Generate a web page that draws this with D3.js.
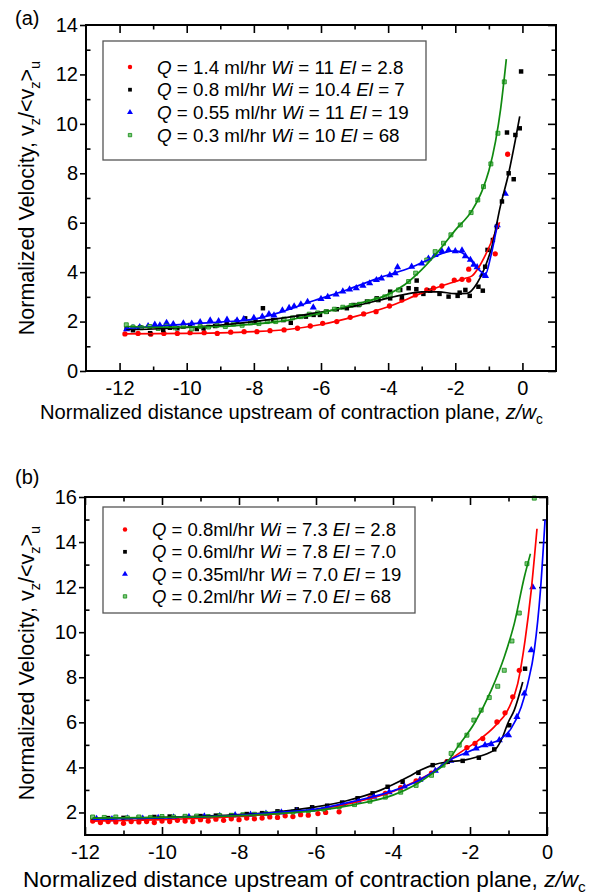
<!DOCTYPE html>
<html>
<head>
<meta charset="utf-8">
<script src="https://cdn.jsdelivr.net/npm/d3@7"></script>
<style>
  body { margin: 0; background: #fff; }
  text { font-family: "Liberation Sans", Arial, sans-serif; fill: #000; }
</style>
</head>
<body>
<svg id="fig" width="597" height="894"></svg>
<script>
// ---------- panel (a) data ----------
const aRedPts = [[-11.84,1.50],[-11.45,1.52],[-11.07,1.49],[-10.68,1.52],[-10.28,1.52],[-9.9,1.55],[-9.48,1.55],[-9.09,1.52],[-8.69,1.57],[-8.29,1.59],[-7.91,1.59],[-7.52,1.63],[-7.1,1.66],[-6.7,1.73],[-6.32,1.82],[-5.95,1.93],[-5.53,2.0],[-5.13,2.17],[-4.73,2.31],[-4.36,2.40],[-3.96,2.63],[-3.59,2.87],[-3.19,3.08],[-2.85,3.28],[-2.65,3.35],[-2.4,3.44],[-2.03,3.68],[-1.8,3.71],[-1.6,3.68],[-1.6,4.12],[-0.81,4.74],[-0.44,8.77]];
const aRedFit = [[-11.84,1.50],[-10,1.52],[-9,1.54],[-8,1.59],[-7,1.68],[-6,1.88],[-5,2.2],[-4,2.6],[-3,3.15],[-2.5,3.4],[-2,3.62],[-1.7,3.75],[-1.5,3.85],[-1.3,4.2],[-1.1,4.7],[-0.9,5.3],[-0.68,6.02]];

const aBlackPts = [[-11.79,1.73],[-11.6,1.65],[-11.39,1.77],[-11.09,1.53],[-10.7,1.66],[-10.5,1.75],[-10.28,1.73],[-9.9,1.86],[-9.7,1.70],[-9.5,1.73],[-9.15,1.82],[-8.81,1.93],[-8.51,2.0],[-8.26,2.13],[-7.95,2.0],[-7.73,2.54],[-7.42,2.06],[-7.12,2.06],[-6.9,1.95],[-6.67,2.2],[-6.45,2.2],[-6.22,2.27],[-6.03,2.27],[-5.83,2.40],[-5.53,2.50],[-5.23,2.54],[-5.03,2.67],[-4.88,2.67],[-4.63,2.81],[-4.34,2.94],[-4.29,2.87],[-3.94,3.21],[-3.94,2.94],[-3.64,3.28],[-3.59,2.98],[-3.39,3.35],[-3.16,3.31],[-3.15,3.66],[-2.95,3.12],[-2.75,3.25],[-2.47,3.12],[-2.2,3.01],[-1.93,3.04],[-1.87,3.17],[-1.7,3.28],[-1.57,3.04],[-1.31,3.41],[-1.18,3.25],[-1.11,4.22],[-1.04,4.9],[-0.88,5.3],[-0.76,5.84],[-0.61,6.86],[-0.46,9.65],[-0.41,8.0],[-0.26,7.76],[-0.21,9.55],[-0.08,9.82],[-0.04,12.12]];
const aBlackFit = [[-11.8,1.68],[-11,1.7],[-10,1.76],[-9,1.86],[-8,2.0],[-7,2.17],[-6,2.38],[-5,2.63],[-4,2.95],[-3.5,3.1],[-3,3.2],[-2.5,3.2],[-2,3.13],[-1.65,3.14],[-1.35,3.55],[-1.11,4.22],[-0.91,5.03],[-0.66,6.65],[-0.41,8.0],[-0.21,9.35],[-0.08,10.3]];

const aBluePts = [[-11.79,1.69],[-11.6,1.75],[-11.4,1.78],[-11.15,1.82],[-10.95,1.88],[-10.8,1.85],[-10.6,1.95],[-10.4,1.9],[-10.1,1.93],[-9.85,1.92],[-9.6,1.98],[-9.3,2.05],[-9.05,2.02],[-8.8,2.08],[-8.5,2.05],[-8.3,2.1],[-8.0,2.15],[-7.75,2.2],[-7.55,2.3],[-7.4,2.25],[-7.15,2.45],[-6.95,2.55],[-6.8,2.62],[-6.6,2.7],[-6.4,2.8],[-6.23,2.57],[-6.0,2.92],[-5.8,3.0],[-5.55,3.1],[-5.35,3.22],[-5.15,3.3],[-4.95,3.35],[-4.75,3.45],[-4.55,3.55],[-4.35,3.68],[-4.2,3.75],[-3.95,3.88],[-3.79,3.96],[-3.72,4.2],[-3.3,4.22],[-3.0,4.35],[-2.8,4.55],[-2.6,4.7],[-2.4,4.85],[-2.2,4.9],[-2.0,4.85],[-1.8,4.88],[-1.7,4.65],[-1.55,4.5],[-1.45,4.3],[-1.35,4.2],[-1.2,3.9],[-1.1,3.85],[-0.75,5.9],[-0.51,7.17]];
const aBlueFit = [[-11.8,1.72],[-11,1.8],[-10,1.9],[-9,1.98],[-8,2.1],[-7.2,2.38],[-6.2,2.85],[-5.2,3.3],[-4.2,3.8],[-3.3,4.2],[-2.8,4.5],[-2.3,4.8],[-2.0,4.86],[-1.8,4.78],[-1.55,4.5],[-1.3,4.1],[-1.1,3.92],[-0.95,4.6],[-0.75,5.9]];

const aGreenPts = [[-11.8,1.87],[-11.6,1.78],[-11.35,1.75],[-11.1,1.8],[-10.85,1.72],[-10.6,1.82],[-10.35,1.75],[-10.1,1.8],[-9.85,1.7],[-9.6,1.8],[-9.35,1.78],[-9.1,1.85],[-8.85,1.8],[-8.6,1.9],[-8.35,1.85],[-8.1,1.95],[-7.85,1.92],[-7.6,2.0],[-7.35,2.0],[-7.1,2.1],[-6.85,2.15],[-6.6,2.2],[-6.35,2.3],[-6.1,2.35],[-5.85,2.4],[-5.6,2.5],[-5.35,2.58],[-5.1,2.65],[-4.85,2.7],[-4.6,2.8],[-4.35,2.9],[-4.1,3.0],[-3.94,3.08],[-3.69,3.28],[-3.39,3.62],[-3.18,3.96],[-2.85,4.49],[-2.6,4.83],[-2.35,5.17],[-2.13,5.51],[-1.85,5.91],[-1.53,6.41],[-1.33,6.92],[-1.16,7.46],[-0.94,8.38],[-0.73,9.62],[-0.54,11.7]];
const aGreenFit = [[-11.8,1.8],[-11,1.77],[-10,1.78],[-9,1.8],[-8,1.9],[-7,2.05],[-6,2.35],[-5,2.7],[-4,3.1],[-3.5,3.5],[-3,4.1],[-2.5,4.85],[-2,5.7],[-1.5,6.5],[-1.2,7.3],[-1,8.1],[-0.8,9.3],[-0.65,10.6],[-0.48,12.62]];

const aLegend = [
  { q: "1.4 ml/hr", wi: "11", el: "2.8" },
  { q: "0.8 ml/hr", wi: "10.4", el: "7" },
  { q: "0.55 ml/hr", wi: "11", el: "19" },
  { q: "0.3 ml/hr", wi: "10", el: "68" }
];

// ---------- panel (b) data ----------
const bRedPts = [[-11.8,1.62],[-11.6,1.55],[-11.4,1.6],[-11.2,1.58],[-11.0,1.52],[-10.8,1.6],[-10.6,1.58],[-10.4,1.6],[-10.2,1.55],[-10.0,1.62],[-9.8,1.6],[-9.6,1.65],[-9.4,1.62],[-9.2,1.6],[-9.0,1.68],[-8.8,1.62],[-8.6,1.7],[-8.4,1.65],[-8.2,1.72],[-8.0,1.68],[-7.8,1.75],[-7.6,1.72],[-7.4,1.75],[-7.2,1.8],[-7.0,1.78],[-6.8,1.85],[-6.6,1.82],[-6.4,1.9],[-6.2,1.88],[-5.95,1.95],[-5.75,2.0],[-5.4,2.03],[-5.0,2.4],[-4.6,2.65],[-4.2,2.85],[-3.8,3.1],[-3.4,3.4],[-3.0,3.75],[-2.6,4.25],[-2.08,4.88],[-1.87,5.06],[-1.67,5.28],[-1.30,6.02],[-1.09,6.42],[-0.89,7.13],[-0.72,8.31]];
const bRedFit = [[-11.8,1.62],[-10,1.68],[-8,1.82],[-7,1.95],[-6,2.12],[-5,2.45],[-4,2.93],[-3.45,3.35],[-3,3.75],[-2.54,4.32],[-2.23,4.69],[-1.8,5.18],[-1.37,5.80],[-1.02,6.54],[-0.76,7.72],[-0.57,9.64],[-0.41,11.86],[-0.26,14.59]];

const bBlackPts = [[-11.8,1.78],[-11.4,1.75],[-11.0,1.76],[-10.6,1.78],[-10.2,1.8],[-9.8,1.82],[-9.4,1.8],[-9.0,1.84],[-8.6,1.86],[-8.2,1.88],[-7.8,1.93],[-7.4,1.97],[-7.0,2.05],[-6.5,2.14],[-6.1,2.23],[-5.71,2.30],[-5.32,2.44],[-4.92,2.63],[-4.53,2.85],[-4.14,3.14],[-3.75,3.36],[-3.34,3.76],[-2.97,4.10],[-2.58,4.25],[-2.19,4.29],[-1.77,4.43],[-1.37,4.80],[-0.98,5.87],[-0.57,8.38]];
const bBlackFit = [[-11.8,1.74],[-10,1.78],[-8,1.9],[-7,2.03],[-6,2.25],[-5.2,2.52],[-4.32,2.99],[-3.6,3.58],[-3.28,3.88],[-2.97,4.10],[-2.58,4.25],[-2.15,4.32],[-1.8,4.47],[-1.54,4.62],[-1.32,4.84],[-1.15,5.36],[-1.02,5.95],[-0.85,6.54],[-0.63,7.79]];

const bBluePts = [[-11.7,1.72],[-11.3,1.7],[-10.9,1.74],[-10.5,1.73],[-10.1,1.76],[-9.7,1.78],[-9.3,1.8],[-8.9,1.83],[-8.5,1.85],[-8.1,1.88],[-7.7,1.9],[-7.3,1.95],[-6.9,2.0],[-6.5,2.06],[-6.1,2.12],[-5.7,2.22],[-5.3,2.37],[-4.9,2.52],[-4.5,2.7],[-4.1,2.9],[-3.7,3.15],[-3.3,3.45],[-2.9,3.85],[-2.5,4.3],[-2.10,4.62],[-1.84,4.84],[-1.61,4.99],[-1.45,5.03],[-1.24,5.21],[-1.0,5.43],[-0.78,6.24],[-0.59,7.28],[-0.41,9.2],[-0.37,12.0]];
const bBlueFit = [[-11.8,1.70],[-10,1.76],[-8,1.88],[-7,2.0],[-6,2.15],[-5,2.5],[-4,2.96],[-3.45,3.32],[-3,3.75],[-2.54,4.32],[-2.15,4.62],[-1.63,4.99],[-1.19,5.28],[-0.93,5.73],[-0.67,6.68],[-0.5,7.72],[-0.33,9.2],[-0.17,11.86],[-0.05,14.99]];

const bGreenPts = [[-11.8,1.8],[-11.5,1.78],[-11.2,1.8],[-10.9,1.76],[-10.6,1.8],[-10.3,1.78],[-10.0,1.82],[-9.7,1.8],[-9.4,1.83],[-9.1,1.84],[-8.8,1.82],[-8.5,1.86],[-8.2,1.87],[-7.9,1.9],[-7.6,1.92],[-7.3,1.95],[-7.0,1.98],[-6.6,2.02],[-6.2,2.08],[-5.8,2.15],[-5.4,2.25],[-5.0,2.35],[-4.6,2.5],[-4.2,2.68],[-3.8,2.9],[-3.4,3.2],[-3.0,3.65],[-2.7,4.1],[-2.49,4.62],[-2.28,4.99],[-2.08,5.43],[-1.90,6.10],[-1.71,6.54],[-1.50,7.10],[-1.28,7.60],[-1.11,8.31],[-0.91,9.61],[-0.72,10.85],[-0.52,13.04],[-0.33,15.95]];
const bGreenFit = [[-11.8,1.75],[-10,1.78],[-8,1.86],[-7,1.95],[-6,2.08],[-5,2.35],[-4,2.77],[-3.45,3.2],[-3,3.7],[-2.54,4.35],[-2.32,4.91],[-1.89,5.95],[-1.45,7.42],[-1.11,8.9],[-0.85,10.38],[-0.59,12.44],[-0.43,13.48]];

const bLegend = [
  { q: "0.8ml/hr", wi: "7.3", el: "2.8" },
  { q: "0.6ml/hr", wi: "7.8", el: "7.0" },
  { q: "0.35ml/hr", wi: "7.0", el: "19" },
  { q: "0.2ml/hr", wi: "7.0", el: "68" }
];

// tick values
const aXMajor = [-12, -10, -8, -6, -4, -2, 0];
const aXMinor = [-11, -9, -7, -5, -3, -1];
const aYMajor = [0, 2, 4, 6, 8, 10, 12, 14];
const aYMinor = [1, 3, 5, 7, 9, 11, 13];
const bXMajor = [-12, -10, -8, -6, -4, -2, 0];
const bXMinor = [-11, -9, -7, -5, -3, -1];
const bYMajor = [2, 4, 6, 8, 10, 12, 14, 16];
const bYMinor = [3, 5, 7, 9, 11, 13, 15];

const RED = "#ff0000", BLACK = "#000000", BLUE = "#0000ff", GREEN = "#108a10";
const markers = [
  { color: RED, type: d3.symbolCircle, size: 22, fill: RED },
  { color: BLACK, type: d3.symbolSquare, size: 20, fill: BLACK },
  { color: BLUE, type: d3.symbolTriangle, size: 22, fill: BLUE },
  { color: GREEN, type: d3.symbolSquare, size: 16, fill: "#7cc87c" }
];

const svg = d3.select("#fig");

function drawPanel(p) {
  const x = d3.scaleLinear().domain(p.xDomain).range([p.left, p.right]);
  const y = d3.scaleLinear().domain(p.yDomain).range([p.bottom, p.top]);
  const g = svg.append("g");

  const axisStyle = sel => {
    sel.select(".domain").remove();
    sel.selectAll("line").attr("stroke", "#000").attr("stroke-width", 1.6);
    sel.selectAll("text").attr("font-family", "Liberation Sans, Arial, sans-serif")
      .attr("font-size", p.tickFont).attr("fill", "#000");
  };
  const fmt = d => String(d);

  g.append("g").attr("transform", `translate(0,${p.bottom})`)
    .call(d3.axisBottom(x).tickValues(p.xMajor).tickFormat(fmt).tickSize(-8).tickPadding(p.xPad)).call(axisStyle);
  g.append("g").attr("transform", `translate(0,${p.bottom})`)
    .call(d3.axisBottom(x).tickValues(p.xMinor).tickFormat("").tickSize(-4.5)).call(axisStyle);
  g.append("g").attr("transform", `translate(0,${p.top})`)
    .call(d3.axisTop(x).tickValues(p.xMajor).tickFormat("").tickSize(-8)).call(axisStyle);
  g.append("g").attr("transform", `translate(0,${p.top})`)
    .call(d3.axisTop(x).tickValues(p.xMinor).tickFormat("").tickSize(-4.5)).call(axisStyle);

  g.append("g").attr("transform", `translate(${p.left},0)`)
    .call(d3.axisLeft(y).tickValues(p.yMajor).tickFormat(fmt).tickSize(6).tickPadding(2)).call(axisStyle);
  g.append("g").attr("transform", `translate(${p.left},0)`)
    .call(d3.axisLeft(y).tickValues(p.yMinor).tickFormat("").tickSize(-4.5)).call(axisStyle);
  g.append("g").attr("transform", `translate(${p.right},0)`)
    .call(d3.axisRight(y).tickValues(p.yMajor).tickFormat("").tickSize(-8)).call(axisStyle);
  g.append("g").attr("transform", `translate(${p.right},0)`)
    .call(d3.axisRight(y).tickValues(p.yMinor).tickFormat("").tickSize(-4.5)).call(axisStyle);

  // clip for data
  const clipId = "clip" + p.id;
  svg.append("clipPath").attr("id", clipId).append("rect")
    .attr("x", p.left).attr("y", p.top - 2).attr("width", p.right - p.left).attr("height", p.bottom - p.top + 2);
  const data = g.append("g").attr("clip-path", `url(#${clipId})`);

  const line = d3.line().x(d => x(d[0])).y(d => y(d[1])).curve(d3.curveMonotoneX);
  p.series.forEach((s, i) => {
    const m = markers[i];
    data.append("g").selectAll("path").data(s.pts).join("path")
      .attr("transform", d => `translate(${x(d[0])},${y(d[1])})`)
      .attr("d", d3.symbol().type(m.type).size(m.size))
      .attr("fill", m.fill)
      .attr("stroke", i === 3 ? m.color : "none")
      .attr("stroke-width", 0.8);
  });
  p.series.forEach((s, i) => {
    data.append("path").datum(s.fit).attr("d", line)
      .attr("fill", "none").attr("stroke", markers[i].color).attr("stroke-width", 1.7);
  });

  g.append("rect").attr("x", p.left).attr("y", p.top)
    .attr("width", p.right - p.left).attr("height", p.bottom - p.top)
    .attr("fill", "none").attr("stroke", "#000").attr("stroke-width", 2);

  // legend
  const L = p.legend;
  g.append("rect").attr("x", L.x).attr("y", L.y).attr("width", L.w).attr("height", L.h)
    .attr("fill", "#fff").attr("stroke", "#555").attr("stroke-width", 1.3);
  p.legendItems.forEach((it, i) => {
    const cy = L.row0 + i * L.dy;
    const m = markers[i];
    g.append("path").attr("transform", `translate(${L.mx},${cy})`)
      .attr("d", d3.symbol().type(m.type).size(m.size * 0.7))
      .attr("fill", m.fill).attr("stroke", i === 3 ? m.color : "none").attr("stroke-width", 0.8);
    const t = g.append("text").attr("x", L.tx).attr("y", cy + L.font * 0.36)
      .attr("font-size", L.font);
    t.append("tspan").attr("font-style", "italic").text("Q");
    t.append("tspan").text(` = ${it.q} `);
    t.append("tspan").attr("font-style", "italic").text("Wi");
    t.append("tspan").text(` = ${it.wi} `);
    t.append("tspan").attr("font-style", "italic").text("El");
    t.append("tspan").text(` = ${it.el}`);
  });

  // panel tag
  svg.append("text").attr("x", p.tag.x).attr("y", p.tag.y).attr("font-size", 20).text(p.tag.text);

  // y title
  const f = p.yTitle.font;
  const yt = svg.append("text")
    .attr("transform", `translate(${p.yTitle.x},${p.yTitle.y}) rotate(-90)`)
    .attr("text-anchor", "middle").attr("font-size", f);
  yt.append("tspan").text("Normalized Velocity, v");
  yt.append("tspan").attr("dy", 6).attr("font-size", f * 0.68).text("z");
  yt.append("tspan").attr("dy", -6).text("/<v");
  yt.append("tspan").attr("dy", 6).attr("font-size", f * 0.68).text("z");
  yt.append("tspan").attr("dy", -6).text(">");
  yt.append("tspan").attr("dy", 6).attr("font-size", f * 0.68).text("u");

  // x title
  const xf = p.xTitle.font;
  const xt = svg.append("text").attr("x", p.xTitle.x).attr("y", p.xTitle.y).attr("font-size", xf);
  xt.append("tspan").text("Normalized distance upstream of contraction plane, ");
  xt.append("tspan").attr("font-style", "italic").text("z/w");
  xt.append("tspan").attr("dy", 5).attr("font-size", xf * 0.68).text("c");
}

drawPanel({
  id: "a", left: 86, right: 556, top: 25, bottom: 371,
  xDomain: [-13, 1], yDomain: [0, 14],
  xMajor: aXMajor, xMinor: aXMinor, yMajor: aYMajor, yMinor: aYMinor,
  tickFont: 20, xPad: 10,
  series: [
    { pts: aRedPts, fit: aRedFit },
    { pts: aBlackPts, fit: aBlackFit },
    { pts: aBluePts, fit: aBlueFit },
    { pts: aGreenPts, fit: aGreenFit }
  ],
  legend: { x: 103, y: 41, w: 323, h: 119, mx: 130, tx: 157, row0: 67, dy: 22.7, font: 18.8 },
  legendItems: aLegend,
  tag: { x: 15, y: 25, text: "(a)" },
  yTitle: { x: 34, y: 198, font: 21.5 },
  xTitle: { x: 40, y: 419, font: 20.2 }
});

drawPanel({
  id: "b", left: 85, right: 547, top: 497, bottom: 835,
  xDomain: [-12, 0], yDomain: [1, 16],
  xMajor: bXMajor, xMinor: bXMinor, yMajor: bYMajor, yMinor: bYMinor,
  tickFont: 20, xPad: 10,
  series: [
    { pts: bRedPts, fit: bRedFit },
    { pts: bBlackPts, fit: bBlackFit },
    { pts: bBluePts, fit: bBlueFit },
    { pts: bGreenPts, fit: bGreenFit }
  ],
  legend: { x: 103, y: 507, w: 312, h: 106, mx: 125, tx: 152, row0: 529.5, dy: 22.3, font: 18.5 },
  legendItems: bLegend,
  tag: { x: 15, y: 484, text: "(b)" },
  yTitle: { x: 34, y: 663, font: 21.5 },
  xTitle: { x: 23, y: 887, font: 22.6 }
});
</script>
</body>
</html>
